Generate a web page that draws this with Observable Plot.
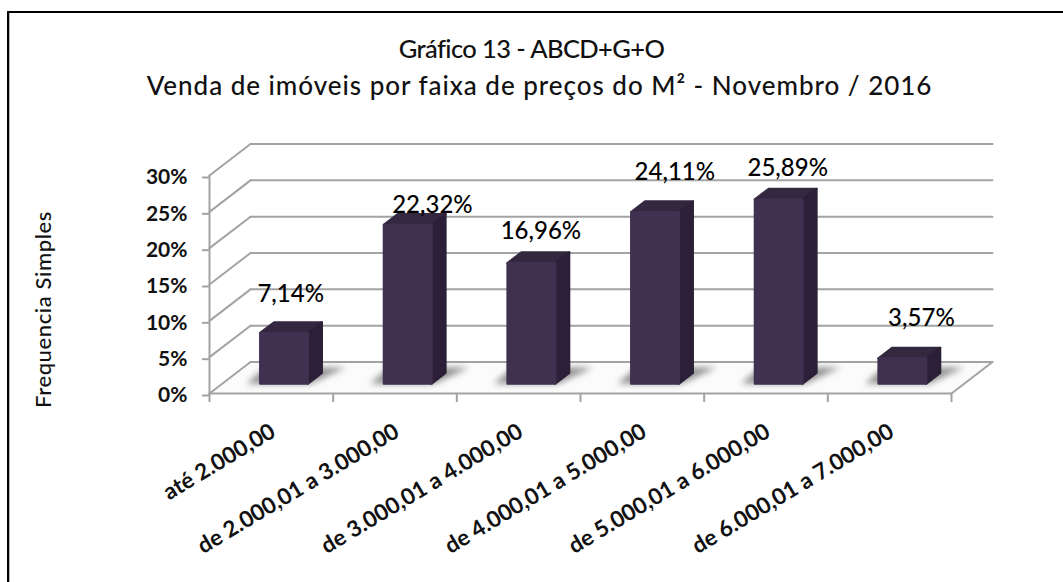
<!DOCTYPE html>
<html><head><meta charset="utf-8">
<script src="https://cdn.jsdelivr.net/npm/d3@7"></script>
<script src="https://cdn.jsdelivr.net/npm/@observablehq/plot@0.6"></script>
<style>
html,body{margin:0;padding:0;background:#fff;overflow:hidden;width:1063px;height:582px}
#frame{position:absolute;left:7px;top:11px;right:-10px;bottom:-10px;border-left:2px solid #000;border-top:2px solid #000;box-shadow:inset 1px 0 0 #bbb;pointer-events:none}
</style></head><body>
<div id="frame"></div>
<div id="chart"></div>
<script>
const categories = ["até 2.000,00","de 2.000,01 a 3.000,00","de 3.000,01 a 4.000,00","de 4.000,01 a 5.000,00","de 5.000,01 a 6.000,00","de 6.000,01 a 7.000,00"];
const values = [7.14,22.32,16.96,24.11,25.89,3.57];
const valueLabels = ["7,14%","22,32%","16,96%","24,11%","25,89%","3,57%"];
const yTicks = [0,5,10,15,20,25,30];
const title1 = "Gráfico 13 - ABCD+G+O";
const title2 = "Venda de imóveis por faixa de preços do M² - Novembro / 2016";
const yTitle = "Frequencia Simples";

// label nudges away from the bar's front-top centre, in data units
const labelNudgeX = [0.054,0.2,0.077,0.16,0.073,0.154];
const labelNudgeY = [5.3,2.7,4.4,5.5,4.3,5.5];

// oblique projection: depth d (0 front, 1 back wall) shifts a point in data units
const DX = 0.3315, DY = 4.33;
const P = (x,y,d) => ({x: x + d*DX, y: y + d*DY});
const poly = (id, pts) => [...pts, pts[0]].map(p => ({id, ...p}));

const HALF = 0.194, D0 = 0.31, D1 = 0.65, FORESHORT = 0.98;
const faces = {front:[], side:[], top:[], shadow:[]};
values.forEach((v,i) => {
  const c = i + 0.5, l = c - HALF, r = c + HALF, h = v * FORESHORT;
  faces.front.push(...poly("f"+i,[P(l,0,D0),P(r,0,D0),P(r,h,D0),P(l,h,D0)]));
  faces.side.push(...poly("s"+i,[P(r,0,D0),P(r,0,D1),P(r,h,D1),P(r,h,D0)]));
  faces.top.push(...poly("t"+i,[P(l,h,D0),P(r,h,D0),P(r,h,D1),P(l,h,D1)]));
  faces.shadow.push(...poly("h"+i,[P(c-.303,0,.31),P(c+.214,0,.31),P(c+.325,0,.83),P(c-.322,0,.83)]));
});
const floor = poly("floor",[P(0,0,0),P(6,0,0),P(6,0,1),P(0,0,1)]);
const walls = [];
yTicks.forEach(t => {
  walls.push({id:"d"+t,...P(0,t,0)},{id:"d"+t,...P(0,t,1)});
  walls.push({id:"b"+t,...P(0,t,1)},{id:"b"+t,...P(6,t,1)});
});
walls.push({id:"v",...P(0,0,0)},{id:"v",...P(0,30,0)});
walls.push({id:"fx",...P(0,0,0)},{id:"fx",...P(6,0,0)});
walls.push({id:"rx",...P(6,0,0)},{id:"rx",...P(6,0,1)});

// applies CSS to the group a mark draws
const css = style => ({render(i,s,v,d,c,next){const g=next(i,s,v,d,c);Object.assign(g.style,style);return g;}});
const face = (data, fill) => Plot.line(data,{x:"x",y:"y",z:"id",fill,stroke:fill,strokeWidth:2,strokeLinejoin:"round",...css({filter:"blur(.35px)"})});

const plot = Plot.plot({
  width:1063, height:582,
  marginLeft:209, marginRight:112, marginTop:175, marginBottom:189,
  style:{fontFamily:"Lato", background:"transparent", color:"#000", overflow:"visible"},
  x:{domain:[0,6], label:null},
  y:{domain:[0,30], label:null},
  marks:[
    Plot.line(floor,{x:"x",y:"y",z:"id",fill:"#fbfbfb",stroke:"none"}),
    Plot.line(walls,{x:"x",y:"y",z:"id",stroke:"#a3a3a3",strokeWidth:2,...css({filter:"blur(.4px)"})}),
    Plot.line(faces.shadow,{x:"x",y:"y",z:"id",fill:"#6e6e6e",fillOpacity:.75,stroke:"none",...css({filter:"blur(3px)"})}),
    face(faces.top,"#33283f"),
    face(faces.side,"#2b2037"),
    face(faces.front,"#403150"),
    Plot.axisY({ticks:yTicks,tickSize:7,stroke:"#a3a3a3",strokeWidth:2,tickPadding:15,dy:2,
      tickFormat:d=>d+"%",fontSize:21,fontWeight:700,fill:"#111",label:null}),
    Plot.axisX({ticks:[0,1,2,3,4,5,6],tickSize:9,stroke:"#a3a3a3",strokeWidth:2,tickFormat:()=>"",label:null}),
    Plot.axisX({ticks:[.5,1.5,2.5,3.5,4.5,5.5],tickSize:0,tickPadding:0,tickRotate:-31,
      tickFormat:d=>categories[d-.5],textAnchor:"end",fontSize:22.5,fontWeight:700,fill:"#111",label:null,dx:2,dy:36}),
    Plot.text(values,{x:(d,i)=>P(i+.5,0,D0).x+labelNudgeX[i],y:(d,i)=>P(0,d*FORESHORT,D0).y+labelNudgeY[i],
      text:(d,i)=>valueLabels[i],fontSize:24,fontWeight:500,fill:"#000"}),
    Plot.text([title1],{frameAnchor:"top",dx:-49,dy:-136,fontSize:25.5,fontWeight:500,fill:"#111",lineAnchor:"top",...css({letterSpacing:"-0.6px"})}),
    Plot.text([title2],{frameAnchor:"top",dx:-41,dy:-99,fontSize:26,fontWeight:500,fill:"#111",lineAnchor:"top",...css({letterSpacing:"0.97px"})}),
    Plot.text([yTitle],{frameAnchor:"left",textAnchor:"middle",dx:-166,dy:25,rotate:-90,fontSize:22,fontWeight:500,fill:"#111",...css({letterSpacing:"0.6px"})})
  ]
});
document.getElementById("chart").append(plot);
</script>
</body></html>
